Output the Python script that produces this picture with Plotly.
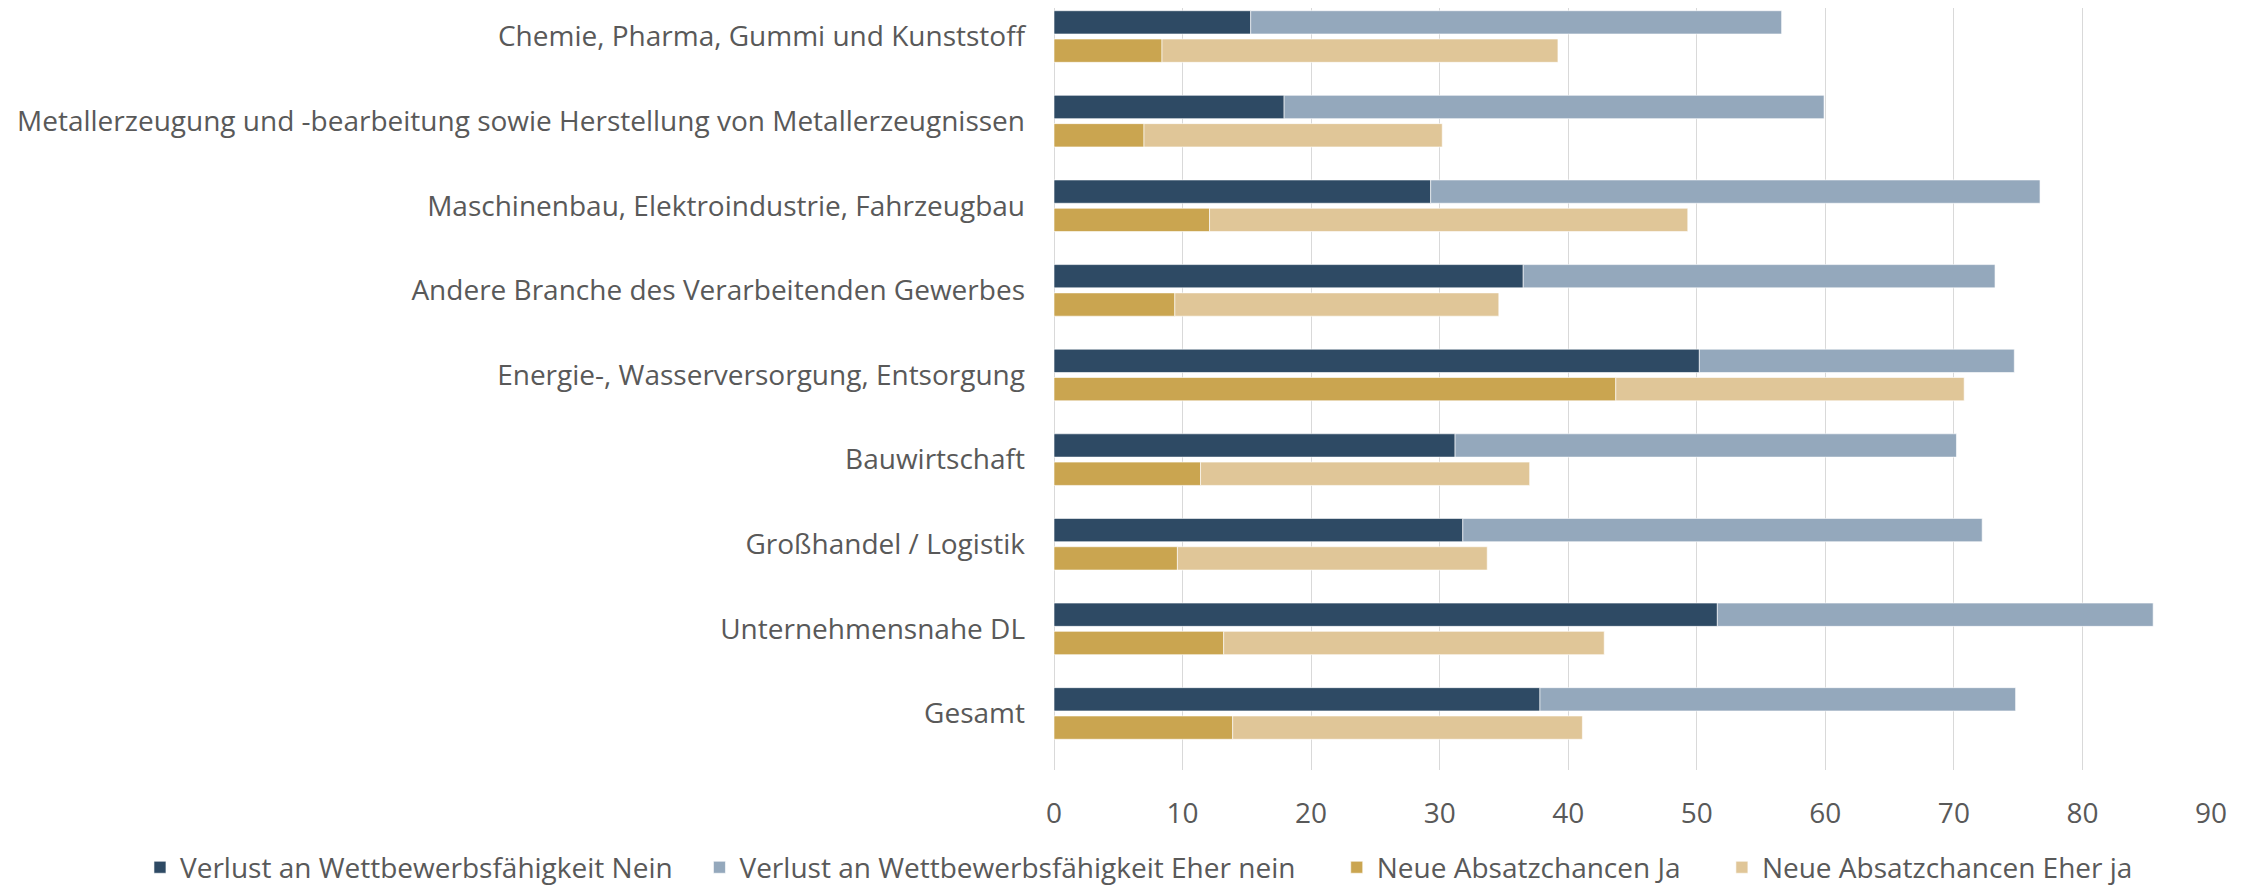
import plotly.graph_objects as go

categories = [
    "Chemie, Pharma, Gummi und Kunststoff",
    "Metallerzeugung und -bearbeitung sowie Herstellung von Metallerzeugnissen",
    "Maschinenbau, Elektroindustrie, Fahrzeugbau",
    "Andere Branche des Verarbeitenden Gewerbes",
    "Energie-, Wasserversorgung, Entsorgung",
    "Bauwirtschaft",
    "Großhandel / Logistik",
    "Unternehmensnahe DL",
    "Gesamt",
]

series_names = [
    "Verlust an Wettbewerbsfähigkeit Nein",
    "Verlust an Wettbewerbsfähigkeit Eher nein",
    "Neue Absatzchancen Ja",
    "Neue Absatzchancen Eher ja",
]

verlust_nein = [15.3, 17.9, 29.3, 36.5, 50.2, 31.2, 31.8, 51.6, 37.8]
verlust_eher_nein = [41.3, 42.0, 47.4, 36.7, 24.5, 39.0, 40.4, 33.9, 37.0]
absatz_ja = [8.4, 7.0, 12.1, 9.4, 43.7, 11.4, 9.6, 13.2, 13.9]
absatz_eher_ja = [30.8, 23.2, 37.2, 25.2, 27.1, 25.6, 24.1, 29.6, 27.2]

x_ticks = [0, 10, 20, 30, 40, 50, 60, 70, 80, 90]

C_NAVY = "#2E4A64"
C_BLUEGRAY = "#94A8BC"
C_GOLD = "#CAA550"
C_BEIGE = "#E0C698"
TXT = "#595959"
FONT = "Open Sans"
FS = 28
NB = "\u00a0"  # spacing between legend entries
pads = [NB * 3, NB * 5, NB * 5, ""]

fig = go.Figure()
line = dict(color="rgba(255,255,255,0.6)", width=1)

fig.add_trace(go.Bar(
    y=categories, x=verlust_nein, orientation="h", offsetgroup="A",
    name=series_names[0] + pads[0], marker=dict(color=C_NAVY, line=line),
))
fig.add_trace(go.Bar(
    y=categories, x=verlust_eher_nein, base=verlust_nein, orientation="h", offsetgroup="A",
    name=series_names[1] + pads[1], marker=dict(color=C_BLUEGRAY, line=line),
))
fig.add_trace(go.Bar(
    y=categories, x=absatz_ja, orientation="h", offsetgroup="B",
    name=series_names[2] + pads[2], marker=dict(color=C_GOLD, line=line),
))
fig.add_trace(go.Bar(
    y=categories, x=absatz_eher_ja, base=absatz_ja, orientation="h", offsetgroup="B",
    name=series_names[3] + pads[3], marker=dict(color=C_BEIGE, line=line),
))

fig.update_layout(
    width=2254, height=881,
    paper_bgcolor="white", plot_bgcolor="white",
    barmode="group", bargap=0.331, bargroupgap=0.177,
    margin=dict(l=1046, r=51, t=0, b=119, autoexpand=False),
    font=dict(family=FONT, size=FS, color=TXT),
    showlegend=True,
    legend=dict(
        orientation="h", xref="paper", x=-0.79, xanchor="left",
        yref="paper", y=-0.128, yanchor="middle",
        font=dict(family=FONT, size=FS, color=TXT), traceorder="normal",
        itemwidth=30,
    ),
)

fig.update_xaxes(
    range=[0, 90], tickvals=x_ticks, ticktext=[str(v) for v in x_ticks],
    showgrid=True, gridcolor="#D9D9D9", gridwidth=1,
    zeroline=True, zerolinecolor="#D9D9D9", zerolinewidth=1,
    showline=False, ticks="", ticklabelstandoff=24,
    tickfont=dict(family=FONT, size=FS, color=TXT), fixedrange=True,
)
fig.update_yaxes(
    type="category", categoryorder="array", categoryarray=categories,
    range=[8.668, -0.337], showgrid=False, zeroline=False, showline=False,
    ticks="", ticklabelstandoff=28,
    tickfont=dict(family=FONT, size=FS, color=TXT),
)

fig.write_html("out.html")
